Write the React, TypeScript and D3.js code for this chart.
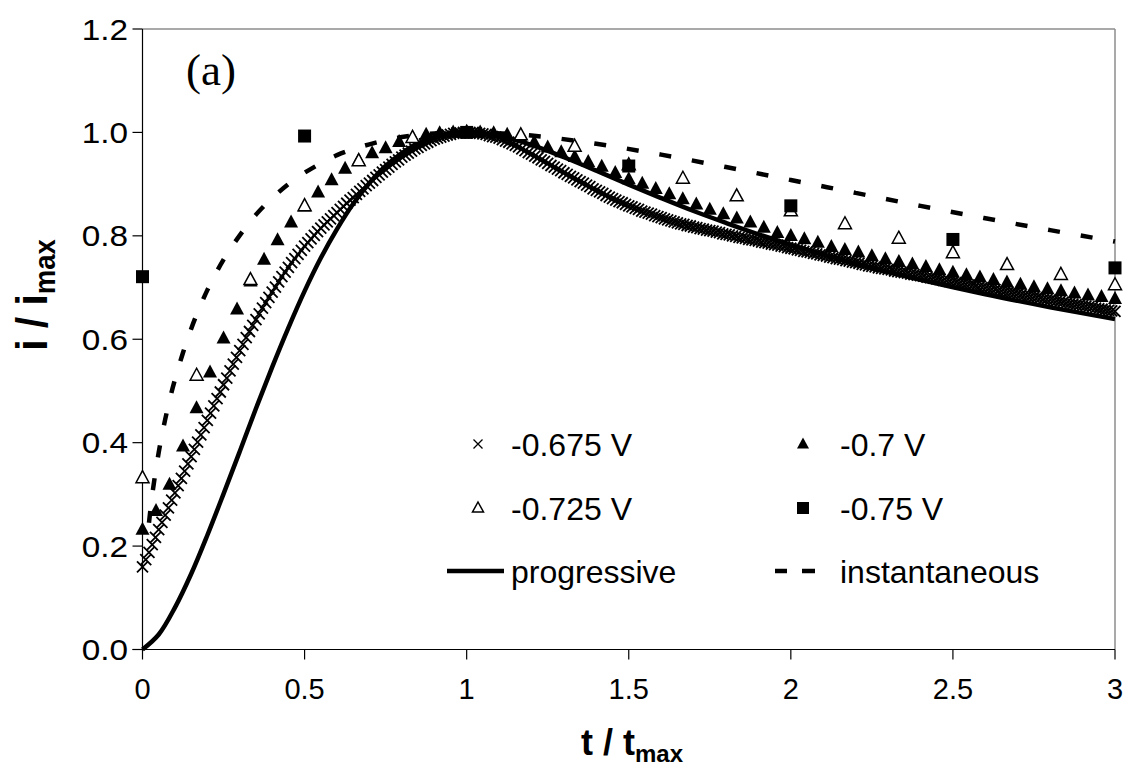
import React from 'react';
import * as d3 from 'd3';

// ---------- data ----------
const xTicks = [0, 0.5, 1, 1.5, 2, 2.5, 3];
const xTickLabels = ['0', '0.5', '1', '1.5', '2', '2.5', '3'];
const yTicks = [0, 0.2, 0.4, 0.6, 0.8, 1.0, 1.2];
const yTickLabels = ['0.0', '0.2', '0.4', '0.6', '0.8', '1.0', '1.2'];

// -0.675 V, sampled every 0.01 t/tmax
const step675 = 0.01;
const v675 = [
  0.160, 0.174, 0.188, 0.203, 0.217, 0.232, 0.246, 0.260, 0.274, 0.289,
  0.303, 0.317, 0.331, 0.345, 0.359, 0.373, 0.387, 0.401, 0.415, 0.429,
  0.443, 0.457, 0.471, 0.485, 0.498, 0.512, 0.525, 0.539, 0.552, 0.565,
  0.578, 0.590, 0.603, 0.615, 0.627, 0.638, 0.649, 0.660, 0.671, 0.681,
  0.691, 0.701, 0.711, 0.721, 0.730, 0.739, 0.748, 0.756, 0.764, 0.772,
  0.780, 0.787, 0.794, 0.801, 0.808, 0.815, 0.821, 0.827, 0.833, 0.839,
  0.845, 0.851, 0.857, 0.863, 0.869, 0.874, 0.880, 0.886, 0.891, 0.897,
  0.902, 0.907, 0.913, 0.918, 0.923, 0.928, 0.933, 0.938, 0.943, 0.947,
  0.952, 0.956, 0.960, 0.964, 0.968, 0.971, 0.975, 0.978, 0.981, 0.984,
  0.987, 0.989, 0.991, 0.993, 0.995, 0.996, 0.998, 0.999, 0.999, 1.000,
  1.000, 1.000, 1.000, 0.999, 0.998, 0.997, 0.996, 0.994, 0.992, 0.991,
  0.989, 0.986, 0.983, 0.981, 0.978, 0.975, 0.972, 0.968, 0.965, 0.961,
  0.958, 0.954, 0.951, 0.947, 0.944, 0.940, 0.936, 0.933, 0.929, 0.926,
  0.922, 0.919, 0.915, 0.912, 0.908, 0.905, 0.902, 0.898, 0.895, 0.891,
  0.888, 0.885, 0.882, 0.878, 0.875, 0.872, 0.869, 0.866, 0.864, 0.861,
  0.858, 0.856, 0.853, 0.851, 0.848, 0.846, 0.844, 0.842, 0.839, 0.837,
  0.835, 0.833, 0.831, 0.829, 0.827, 0.825, 0.823, 0.822, 0.820, 0.819,
  0.817, 0.816, 0.814, 0.813, 0.811, 0.810, 0.809, 0.807, 0.806, 0.804,
  0.803, 0.802, 0.800, 0.799, 0.797, 0.796, 0.795, 0.793, 0.792, 0.791,
  0.790, 0.788, 0.787, 0.786, 0.784, 0.783, 0.782, 0.780, 0.779, 0.777,
  0.776, 0.775, 0.773, 0.772, 0.770, 0.769, 0.768, 0.766, 0.765, 0.763,
  0.762, 0.761, 0.759, 0.758, 0.756, 0.755, 0.754, 0.752, 0.751, 0.749,
  0.748, 0.747, 0.745, 0.744, 0.742, 0.741, 0.740, 0.738, 0.737, 0.736,
  0.735, 0.734, 0.732, 0.731, 0.730, 0.729, 0.728, 0.726, 0.725, 0.724,
  0.723, 0.722, 0.720, 0.719, 0.718, 0.717, 0.716, 0.714, 0.713, 0.712,
  0.711, 0.710, 0.708, 0.707, 0.706, 0.705, 0.704, 0.703, 0.701, 0.700,
  0.699, 0.698, 0.697, 0.696, 0.694, 0.693, 0.692, 0.691, 0.690, 0.689,
  0.688, 0.686, 0.685, 0.684, 0.683, 0.682, 0.681, 0.680, 0.678, 0.677,
  0.676, 0.675, 0.674, 0.673, 0.672, 0.670, 0.669, 0.668, 0.667, 0.666,
  0.665, 0.664, 0.663, 0.662, 0.660, 0.659, 0.658, 0.657, 0.656, 0.655,
  0.654,
];

// -0.7 V, sampled every 1/24 t/tmax
const step700 = 1 / 24;
const v700 = [
  0.232, 0.268, 0.319, 0.393, 0.467, 0.536, 0.602, 0.658, 0.712, 0.754,
  0.792, 0.826, 0.857, 0.884, 0.908, 0.930, 0.946, 0.960, 0.970, 0.982,
  0.990, 0.996, 0.999, 1.000, 1.000, 1.000, 0.999, 0.996, 0.991, 0.981,
  0.971, 0.962, 0.953, 0.943, 0.934, 0.922, 0.910, 0.901, 0.891, 0.881,
  0.871, 0.861, 0.851, 0.842, 0.834, 0.826, 0.816, 0.806, 0.800, 0.794,
  0.787, 0.779, 0.773, 0.768, 0.761, 0.755, 0.750, 0.745, 0.740, 0.734,
  0.729, 0.724, 0.720, 0.715, 0.710, 0.706, 0.701, 0.697, 0.693, 0.689,
  0.685, 0.682, 0.678,
];

// -0.725 V
const t725 = [0, 0.167, 0.333, 0.5, 0.667, 0.833, 1, 1.167, 1.333, 1.5, 1.667, 1.833, 2, 2.167, 2.333, 2.5, 2.667, 2.833, 3];
const v725 = [0.332, 0.530, 0.715, 0.858, 0.945, 0.990, 1.000, 0.995, 0.973, 0.937, 0.911, 0.877, 0.848, 0.823, 0.795, 0.767, 0.744, 0.725, 0.705];

// -0.75 V
const t750 = [0, 0.5, 1, 1.5, 2, 2.5, 3];
const v750 = [0.721, 0.993, 1.000, 0.935, 0.858, 0.793, 0.738];

// progressive nucleation curve
const tProg = [0, 0.05, 0.1, 0.15, 0.2, 0.25, 0.3, 0.35, 0.4, 0.45, 0.5, 0.55, 0.6, 0.65, 0.7, 0.75, 0.8, 0.85, 0.9, 0.95, 1.0,
  1.1, 1.2, 1.3, 1.4, 1.5, 1.6, 1.7, 1.8, 1.9, 2.0, 2.2, 2.4, 2.6, 2.8, 3.0];
const vProg = [0, 0.029, 0.081, 0.146, 0.221, 0.301, 0.383, 0.466, 0.546, 0.622, 0.693, 0.757, 0.813, 0.862, 0.902, 0.935, 0.960, 0.979, 0.991, 0.998, 1.000,
  0.993, 0.976, 0.952, 0.926, 0.899, 0.873, 0.848, 0.825, 0.803, 0.783, 0.746, 0.715, 0.687, 0.662, 0.639];

// instantaneous nucleation curve
const tInst = [0.02, 0.03, 0.05, 0.07, 0.1, 0.15, 0.2, 0.25, 0.3, 0.35, 0.4, 0.45, 0.5, 0.6, 0.7, 0.8, 0.9, 1.0,
  1.2, 1.4, 1.6, 1.8, 2.0, 2.2, 2.4, 2.6, 2.8, 3.0];
const vInst = [0.245, 0.299, 0.381, 0.445, 0.522, 0.620, 0.695, 0.754, 0.801, 0.841, 0.873, 0.900, 0.922, 0.956, 0.977, 0.991, 0.998, 1.000,
  0.994, 0.978, 0.957, 0.933, 0.908, 0.883, 0.858, 0.834, 0.811, 0.789];

const legendLabels = ['-0.675 V', '-0.7 V', '-0.725 V', '-0.75 V', 'progressive', 'instantaneous'];

// ---------- layout ----------
const W = 1129;
const H = 767;
const X0 = 142.5;
const X1 = 1115;
const Y0 = 649.5;
const Y1 = 29;

const SANS = '"Liberation Sans", Arial, sans-serif';
const SERIF = '"Liberation Serif", "Times New Roman", serif';

function Cross({ x, y, s = 5.5, sw = 1.5 }: { x: number; y: number; s?: number; sw?: number }) {
  return (
    <path
      d={`M${x - s},${y - s}L${x + s},${y + s}M${x - s},${y + s}L${x + s},${y - s}`}
      stroke="#000"
      strokeWidth={sw}
      fill="none"
    />
  );
}

function Tri({ x, y, filled, w = 14, h = 13 }: { x: number; y: number; filled: boolean; w?: number; h?: number }) {
  const d = `M${x},${y - h * 0.6}L${x + w / 2},${y + h * 0.4}L${x - w / 2},${y + h * 0.4}Z`;
  return filled ? (
    <path d={d} fill="#000" />
  ) : (
    <path d={d} fill="#fff" stroke="#000" strokeWidth={1.5} />
  );
}

function Sq({ x, y, s = 13 }: { x: number; y: number; s?: number }) {
  return <rect x={x - s / 2} y={y - s / 2} width={s} height={s} fill="#000" />;
}

export default function App() {
  const x = d3.scaleLinear().domain([0, 3]).range([X0, X1]);
  const y = d3.scaleLinear().domain([0, 1.2]).range([Y0, Y1]);

  const lineGen = d3
    .line<[number, number]>()
    .x((d) => x(d[0]))
    .y((d) => y(d[1]))
    .curve(d3.curveCatmullRom.alpha(0.5));

  const progPath = lineGen(tProg.map((t, i) => [t, vProg[i]] as [number, number])) || '';
  const instPath = lineGen(tInst.map((t, i) => [t, vInst[i]] as [number, number])) || '';

  const legRows = [444, 508, 571];
  const legMarkX = [478, 803];
  const legTextX = [511, 840];

  return (
    <svg
      width={W}
      height={H}
      viewBox={`0 0 ${W} ${H}`}
      style={{ position: 'absolute', left: 0, top: 0, background: '#fff' }}
    >
      <rect x={0} y={0} width={W} height={H} fill="#fff" />

      {/* plot frame: top and right in grey */}
      <line x1={X0} y1={Y1} x2={X1} y2={Y1} stroke="#8c8c8c" strokeWidth={1.5} />
      <line x1={X1} y1={Y1} x2={X1} y2={Y0} stroke="#8c8c8c" strokeWidth={1.5} />

      {/* y axis */}
      <line x1={X0} y1={Y1} x2={X0} y2={Y0} stroke="#000" strokeWidth={1.2} />
      {yTicks.map((v, i) => (
        <g key={'yt' + i}>
          <line x1={X0 - 10} y1={y(v)} x2={X0} y2={y(v)} stroke="#000" strokeWidth={1.2} />
          <text
            transform={`translate(128,${y(v) + 10.5}) scale(1.15,1)`}
            textAnchor="end"
            fontFamily={SANS}
            fontSize={29}
            fill="#000"
          >
            {yTickLabels[i]}
          </text>
        </g>
      ))}

      {/* x axis */}
      <line x1={X0 - 10} y1={Y0} x2={X1} y2={Y0} stroke="#000" strokeWidth={1.2} />
      {xTicks.map((v, i) => (
        <g key={'xt' + i}>
          <line x1={x(v)} y1={Y0} x2={x(v)} y2={Y0 + 10} stroke="#000" strokeWidth={1.2} />
          <text x={x(v)} y={699} textAnchor="middle" fontFamily={SANS} fontSize={29} fill="#000">
            {xTickLabels[i]}
          </text>
        </g>
      ))}

      {/* axis titles */}
      <text x={632} y={755} textAnchor="middle" fontFamily={SANS} fontSize={36} fontWeight="bold" fill="#000">
        t / t<tspan fontSize={24} dy={7}>max</tspan>
      </text>
      <text
        transform={`translate(47,295) rotate(-90) scale(1.1,1.2)`}
        textAnchor="middle"
        fontFamily={SANS}
        fontSize={37}
        fontWeight="bold"
        fill="#000"
      >
        i / i<tspan fontSize={25} dy={7}>max</tspan>
      </text>

      {/* panel label */}
      <text x={186} y={85} fontFamily={SERIF} fontSize={45} fill="#000">
        (a)
      </text>

      {/* theoretical curves */}
      <path d={progPath} fill="none" stroke="#000" strokeWidth={4.5} />
      <path d={instPath} fill="none" stroke="#000" strokeWidth={4.5} strokeDasharray="12 21" />

      {/* -0.675 V crosses */}
      {v675.map((v, i) => (
        <Cross key={'c' + i} x={x(i * step675)} y={y(v)} sw={1.8} />
      ))}
      {/* -0.7 V filled triangles */}
      {v700.map((v, i) => (
        <Tri key={'ft' + i} x={x(i * step700)} y={y(v)} filled />
      ))}
      {/* -0.725 V open triangles */}
      {v725.map((v, i) => (
        <Tri key={'ot' + i} x={x(t725[i])} y={y(v)} filled={false} w={13} h={12} />
      ))}
      {/* -0.75 V squares */}
      {v750.map((v, i) => (
        <Sq key={'sq' + i} x={x(t750[i])} y={y(v)} />
      ))}

      {/* legend */}
      <Cross x={legMarkX[0]} y={legRows[0]} s={4.5} sw={1.3} />
      <Tri x={legMarkX[1]} y={legRows[0]} filled w={12} h={11} />
      <Tri x={legMarkX[0]} y={legRows[1]} filled={false} w={11} h={10} />
      <Sq x={legMarkX[1]} y={legRows[1]} s={12} />
      <line x1={447} y1={legRows[2]} x2={504} y2={legRows[2]} stroke="#000" strokeWidth={4.5} />
      <line x1={775} y1={legRows[2]} x2={787} y2={legRows[2]} stroke="#000" strokeWidth={4.5} />
      <line x1={802} y1={legRows[2]} x2={815} y2={legRows[2]} stroke="#000" strokeWidth={4.5} />
      {legendLabels.map((lab, i) => (
        <text
          key={'lg' + i}
          x={legTextX[i % 2]}
          y={legRows[Math.floor(i / 2)] + 11.5}
          fontFamily={SANS}
          fontSize={32}
          fill="#000"
        >
          {lab}
        </text>
      ))}
    </svg>
  );
}
